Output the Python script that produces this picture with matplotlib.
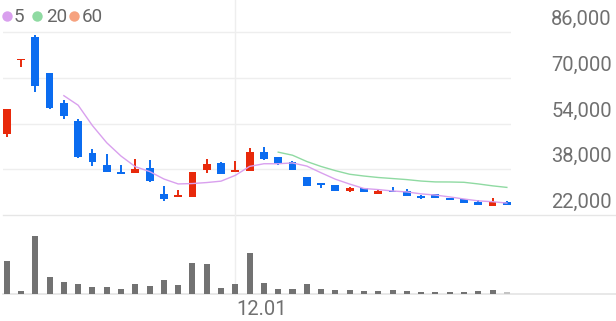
import matplotlib
matplotlib.use("Agg")
import matplotlib.pyplot as plt
from matplotlib.lines import Line2D
import numpy as np
import pandas as pd

# ---- data ----
opens  = [50300, 76100, 84250, 71550, 61280, 54980, 43580, 39490, 36940, 36590,
          38550, 29350, 28300, 28400, 37740, 40290, 36940, 37390, 44140, 42180,
          40420, 35180, 33090, 32390, 30500, 31550, 29350, 30500, 30500, 28650,
          29240, 27950, 27500, 26660, 25260, 26450]
highs  = [59070, 76300, 84950, 71660, 62220, 55470, 44980, 43230, 39490, 41590,
          41240, 32150, 30750, 36940, 41480, 40650, 40890, 45540, 45680, 42300,
          40890, 35180, 33090, 32390, 31900, 31600, 30990, 31900, 31100, 29000,
          29240, 27950, 27500, 27250, 28050, 26900]
lows   = [49280, 73800, 65020, 59070, 55470, 41830, 39250, 37150, 36240, 36590,
          33700, 27000, 28300, 28400, 36590, 36340, 36940, 37390, 41240, 39600,
          37740, 32250, 31340, 30400, 30150, 29900, 29350, 29940, 28550, 27600,
          27840, 27150, 26300, 25500, 25260, 25500]
closes = [59070, 76300, 67120, 59530, 56630, 42390, 40650, 37150, 36240, 38090,
          33900, 27600, 28500, 36940, 39840, 36340, 37740, 44140, 41590, 39840,
          37740, 32250, 32390, 30400, 31340, 29940, 30400, 29940, 28750, 27950,
          27840, 27150, 26300, 25500, 26450, 25500]
volumes = [1000000, 90000, 1750000, 520000, 350000, 300000, 220000, 220000, 140000, 300000,
           240000, 410000, 260000, 940000, 900000, 170000, 300000, 1220000, 330000, 140000,
           140000, 290000, 160000, 120000, 120000, 90000, 90000, 130000, 100000, 70000,
           70000, 60000, 70000, 90000, 130000, 60000]
yticks = [22000, 38000, 54000, 70000, 86000]
date_label = "12.01"
date_index = 16
ma_periods = [5, 20, 60]

# ---- style ----
UP = "#e8290b"
DOWN = "#0b6cf0"
MA_COLORS = {5: "#d9a0ee", 20: "#8fdaa2", 60: "#f6a27f"}
GRID = "#eeeeee"
TXT = "#707070"
FONT = "Roboto"

W, H = 616, 321
fig = plt.figure(figsize=(W / 100, H / 100), dpi=100)

def fx(px):
    return px / W

def fy(py):
    return (H - py) / H

n = len(closes)
x = np.arange(n)
xl, xr = 3, 511
step = 14.29
x0 = 6.7
xlim = ((xl - x0) / step, (xr - x0) / step)

# price axes: pixel 0 .. 217, 32px->86000, 349.7 per px
ppx = 349.7
ax = fig.add_axes([fx(xl), fy(217), fx(xr - xl), 217 / H])
ax.set_xlim(*xlim)
ax.set_ylim(86000 - (217 - 32) * ppx, 86000 + 32 * ppx)
for s in ax.spines.values():
    s.set_visible(False)
ax.set_xticks([])
ax.set_yticks([])
ax.patch.set_alpha(0)

for v in yticks:
    if v == yticks[0]:
        ax.axhline(v, xmin=0, xmax=(W - xl) / (xr - xl), color="#e6e6e6", lw=1.0,
                   clip_on=False, zorder=0)
    else:
        ax.axhline(v, color=GRID, lw=1.0, zorder=0)
    ax.annotate(f"{v:,}", xy=(1, v), xycoords=("axes fraction", "data"),
                xytext=(101, 7), textcoords="offset pixels", ha="right", va="baseline",
                fontsize=14.5, color=TXT, family=FONT)

# vertical date grid line spanning both panes
ax.axvline(date_index, ymin=-(294 - 217) / 217, ymax=1, color=GRID, lw=1.0,
           clip_on=False, zorder=0)

o = np.array(opens, float)
c = np.array(closes, float)
hi = np.array(highs, float)
lo = np.array(lows, float)
up = c >= o
cols = np.where(up, UP, DOWN)
body_bottom = np.minimum(o, c)
body_h = np.maximum(np.abs(c - o), 600)
ax.vlines(x, lo, hi, colors=cols, lw=1.4, zorder=2)
ax.bar(x, body_h, bottom=body_bottom, width=0.55, color=cols, zorder=3, linewidth=0)

close_s = pd.Series(closes, dtype=float)
for p in ma_periods:
    ma = close_s.rolling(p).mean()
    ax.plot(x, ma, color=MA_COLORS[p], lw=1.0, zorder=4)

# volume axes
vax = fig.add_axes([fx(xl), fy(294), fx(xr - xl), 73 / H])
vax.set_xlim(*xlim)
vax.set_ylim(0, 73 * 30000)
for s in vax.spines.values():
    s.set_visible(False)
vax.set_xticks([])
vax.set_yticks([])
vax.patch.set_alpha(0)
vcols = ["#727272"] * (n - 1) + ["#c4c4c4"]
vax.bar(x, volumes, width=0.42, color=vcols, linewidth=0, zorder=3)
vax.axhline(0, xmin=0, xmax=(W - xl) / (xr - xl), color="#e4e4e4", lw=1.2,
            clip_on=False, zorder=2)
vax.annotate(date_label, xy=(date_index, 0), xycoords="data",
             xytext=(1, -21), textcoords="offset pixels", ha="left", va="baseline",
             fontsize=14.5, color=TXT, family=FONT)

# legend
lx = [6.5, 37, 74]
tx = [14, 46, 82]
for p, dx, tt in zip(ma_periods, lx, tx):
    fig.add_artist(Line2D([fx(dx)], [fy(15.5)], marker="o", markersize=7.5,
                          color=MA_COLORS[p], markeredgewidth=0, linestyle="none"))
    fig.text(fx(tt), fy(21.7), str(p), fontsize=13.5, color="#666666",
             family=FONT, ha="left", va="baseline")

fig.savefig("out.png", dpi=100)
